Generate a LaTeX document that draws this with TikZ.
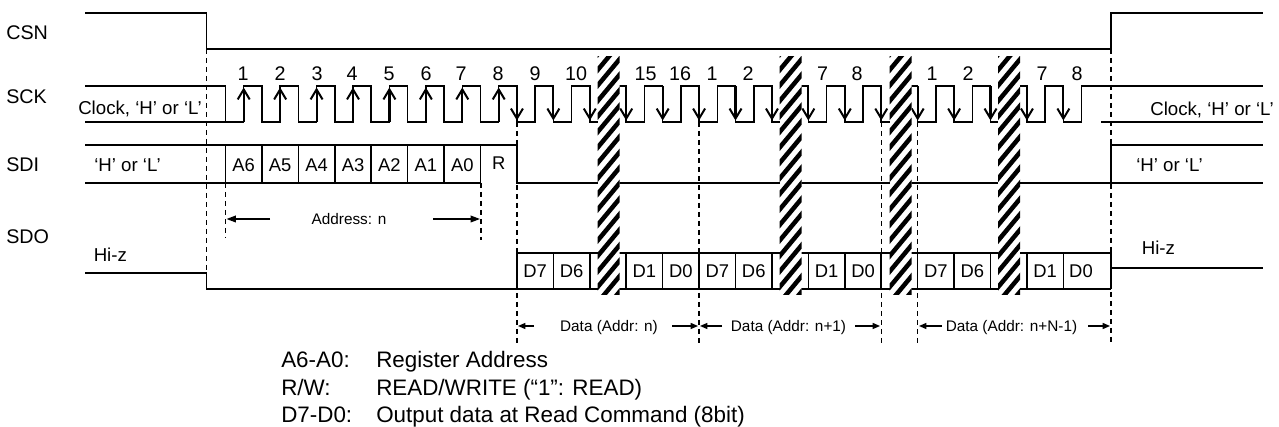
\documentclass[tikz,border=0pt]{standalone}
\usepackage{fontspec}
\setmainfont{Liberation Sans}
\usetikzlibrary{arrows.meta}
\newcommand\hatchband[1]{%
  \begin{scope}
    \clip ({#1-11},57) rectangle ({#1+11},295);
    \fill[white] ({#1-11},57) rectangle ({#1+11},295);
    \foreach \j in {-1,...,17}{
      \draw[line width=3.4pt] ({#1-15},{57+\j*15.5+18}) -- ({#1+15},{57+\j*15.5-18});
    }
  \end{scope}}
\begin{document}
\begin{tikzpicture}[x=0.75pt,y=-0.75pt,
  sig/.style={line width=1.15pt},
  guide/.style={line width=0.9pt,dash pattern=on 3.75pt off 3pt},
  clkarrow/.style={line width=1.6pt,-{Straight Barb[length=7.5pt,width=9pt,line width=1.5pt]}},
  dimarrow/.style={line width=1pt,-{Triangle[length=7pt,width=5pt]}},
  darrow/.style={line width=1pt,-{Triangle[length=5.5pt,width=4.5pt]}},
  signame/.style={anchor=base west,inner sep=0pt,font=\fontsize{14.8}{16}\selectfont},
  num/.style={anchor=base,inner sep=0pt,font=\fontsize{14.8}{16}\selectfont},
  cell/.style={anchor=base,inner sep=0pt,font=\fontsize{13.8}{15}\selectfont},
  note/.style={anchor=base west,inner sep=0pt,font=\fontsize{14}{16}\selectfont},
  small/.style={anchor=base,inner sep=0pt,font=\fontsize{11.5}{13}\selectfont},
  legend/.style={anchor=base west,inner sep=0pt,font=\fontsize{16.8}{18}\selectfont},
]
\useasboundingbox (0,0) rectangle (1279,427);

% signal names
\node[signame] (csn) at (6,40) {CSN};
\node[signame] (sck) at (6,104) {SCK};
\node[signame] (sdi) at (6,172) {SDI};
\node[signame] (sdo) at (6,244) {SDO};

% CSN
\draw[sig] (85,13) -- (206.5,13) -- (206.5,49) -- (1111,49) -- (1111,13) -- (1263,13);

% SCK
\draw[sig] (85,86) -- (225.5,86) -- (225.5,122)
  \foreach \k in {0,...,22} {
    -- ({225.5+\k*36.43+18.215},122) -- ({225.5+\k*36.43+18.215},86)
    -- ({225.5+(\k+1)*36.43},86) -- ({225.5+(\k+1)*36.43},122) }
  -- ({225.5+23*36.43+18.215},122) -- ({225.5+23*36.43+18.215},86) -- (1263,86);
\draw[sig] (85,122) -- (225.5,122);
\draw[sig] (1101,122) -- (1263,122);
\foreach \k in {0,...,7}
  \draw[clkarrow] ({225.5+\k*36.43+18.215},122) -- ({225.5+\k*36.43+18.215},87.5);
\foreach \k in {8,...,23}
  \draw[clkarrow] ({225.5+\k*36.43},86) -- ({225.5+\k*36.43},120.5);

\node[note] (clkl) at (78,115) {Clock, ‘H’ or ‘L’};
\node[note] (clkr) at (1150,116) {Clock, ‘H’ or ‘L’};

% clock numbers
\foreach \x/\t [count=\i] in {243/1,280/2,317/3,352/4,389/5,426/6,461/7,498/8,535/9,576/10,645.5/15,680/16,712/1,748/2,822.5/7,857/8,932/1,968/2,1042/7,1077/8}
  \node[num] (num\i) at (\x,81) {\t};

% SDI
\draw[sig] (85,145) -- (516.9,145) -- (516.9,183) -- (1263,183);
\draw[sig] (85,183) -- (481,183);
\foreach \k in {0,...,7}
  \draw[sig] ({225.5+\k*36.43},145) -- ({225.5+\k*36.43},183);
\draw[sig] (1111,183) -- (1111,145) -- (1263,145);
\foreach \t [count=\i from 0] in {A6,A5,A4,A3,A2,A1,A0}
  \node[cell] (a\i) at ({225.5+(\i+0.5)*36.43},172) {\t};
\node[cell] (rbit) at ({225.5+7.5*36.43},170) {R};
\node[note] (hll) at (94,172) {‘H’ or ‘L’};
\node[note] (hlr) at (1136,172) {‘H’ or ‘L’};

% SDO
\draw[sig] (85,273) -- (206.5,273) -- (206.5,289) -- (1111,289);
\draw[sig] (516.9,289) -- (516.9,253) -- (1111,253) -- (1111,289);
\foreach \k in {9,...,23}
  \draw[sig] ({225.5+\k*36.43},253) -- ({225.5+\k*36.43},289);
\draw[sig] (1111,268) -- (1263,268);
\foreach \k/\t [count=\i] in {8/D7,9/D6,11/D1,12/D0,13/D7,14/D6,16/D1,17/D0,19/D7,20/D6,22/D1}
  \node[cell] (d\i) at ({225.5+(\k+0.5)*36.43},278) {\t};
\node[cell] (dlast) at (1081,278) {D0};
\node[note] (hizl) at (93.5,262) {Hi-z};
\node[note] (hizr) at (1141.5,255) {Hi-z};

% dashed guides
\draw[guide] (206.5,49) -- (206.5,273);
\draw[guide] (225.5,183) -- (225.5,238);
\draw[guide] (481,183) -- (481,240);
\foreach \k in {8,13,18,19}
  \draw[guide] ({225.5+\k*36.43},122) -- ({225.5+\k*36.43},343);
\draw[guide] (1111,49) -- (1111,343);

% hatch bands
\hatchband{608.5}
\hatchband{790.5}
\hatchband{900.5}
\hatchband{1009}

% address arrow
\node[small] (addr) at (349,225) {Address: n};
\draw[dimarrow] (270,219) -- (226.5,219);
\draw[dimarrow] (433,219) -- (480,219);

% data arrows
\node[small] (data1) at (609,331.5) {Data (Addr: n)};
\node[small] (data2) at (788.5,331.5) {Data (Addr: n+1)};
\node[small] (data3) at (1011.5,331.5) {Data (Addr: n+N-1)};
\draw[darrow] (534,326) -- (518,326);
\draw[darrow] (672,326) -- (698,326);
\draw[darrow] (722,326) -- (700,326);
\draw[darrow] (855,326) -- (880,326);
\draw[darrow] (942,326) -- (919,326);
\draw[darrow] (1088,326) -- (1110,326);

% legend
\node[legend] (l1a) at (281,368) {A6-A0:};
\node[legend] (l1b) at (376,368) {Register Address};
\node[legend] (l2a) at (281,396) {R/W:};
\node[legend] (l2b) at (376,396) {READ/WRITE (“1”: READ)};
\node[legend] (l3a) at (281,423) {D7-D0:};
\node[legend] (l3b) at (376,423) {Output data at Read Command (8bit)};
\end{tikzpicture}
\end{document}
